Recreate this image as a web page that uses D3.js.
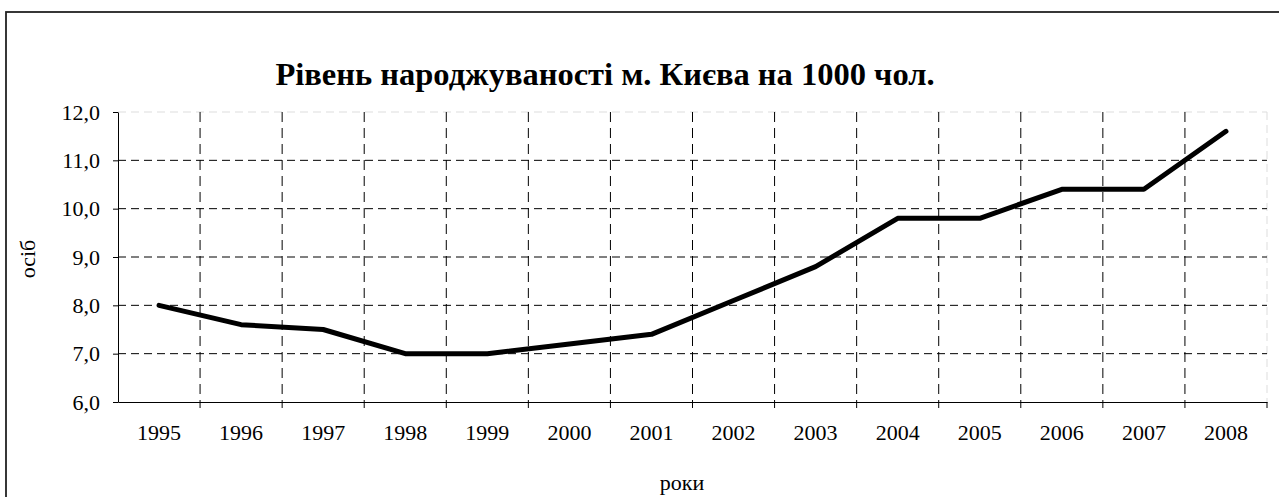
<!DOCTYPE html>
<html>
<head>
<meta charset="utf-8">
<script src="https://cdn.jsdelivr.net/npm/d3@7"></script>
<style>
  body { margin: 0; background: #fff; }
  svg { display: block; font-family: "Liberation Serif", "Times New Roman", serif; }
</style>
</head>
<body>
<div id="chart"></div>
<script>
// Chart data
const years = ["1995", "1996", "1997", "1998", "1999", "2000", "2001",
  "2002", "2003", "2004", "2005", "2006", "2007", "2008"];
const birthRate = [8.0, 7.6, 7.5, 7.0, 7.0, 7.2, 7.4, 8.1, 8.8, 9.8, 9.8, 10.4, 10.4, 11.6];
const yTicks = [6, 7, 8, 9, 10, 11, 12];

const titleText = "Рівень народжуваності м. Києва на 1000 чол.";
const xLabel = "роки";
const yLabel = "осіб";

// Size of page and plot
const [w, h] = [1279, 497];
const plotLeft = 118;
const plotRight = 1267;
const plotTop = 112;
const plotBottom = 402;
const labelSize = 22;

const svg = d3.select("#chart")
  .append("svg")
  .attr("width", w)
  .attr("height", h);

// Outer frame (goes off the page on the right and bottom)
svg.append("rect")
  .attr("x", 6)
  .attr("y", 12)
  .attr("width", w + 20)
  .attr("height", h + 20)
  .attr("fill", "none")
  .attr("stroke", "#222")
  .attr("stroke-width", 1.8);

// Scales
const xScale = d3.scaleBand()
  .domain(years)
  .range([plotLeft, plotRight]);

const yScale = d3.scaleLinear()
  .domain([6, 12])
  .range([plotBottom, plotTop]);

// Faint plot area border at top and right
svg.append("line")
  .attr("x1", plotLeft).attr("x2", plotRight)
  .attr("y1", yScale(12)).attr("y2", yScale(12))
  .attr("stroke", "#ddd")
  .attr("stroke-dasharray", "8,5");

svg.append("line")
  .attr("x1", plotRight).attr("x2", plotRight)
  .attr("y1", plotTop).attr("y2", plotBottom)
  .attr("stroke", "#ddd")
  .attr("stroke-dasharray", "8,5");

// Dashed grid lines
svg.append("g")
  .selectAll("line")
  .data(yTicks.filter(d => d > 6 && d < 12))
  .enter()
  .append("line")
  .attr("x1", plotLeft)
  .attr("x2", plotRight)
  .attr("y1", d => yScale(d))
  .attr("y2", d => yScale(d))
  .attr("stroke", "#000")
  .attr("stroke-dasharray", "8,5");

svg.append("g")
  .selectAll("line")
  .data(years.slice(1))
  .enter()
  .append("line")
  .attr("x1", d => xScale(d))
  .attr("x2", d => xScale(d))
  .attr("y1", plotTop)
  .attr("y2", plotBottom)
  .attr("stroke", "#000")
  .attr("stroke-dasharray", "10,6");

// Axes
const yAxis = d3.axisLeft(yScale)
  .tickValues(yTicks)
  .tickFormat(d => d3.format(".1f")(d).replace(".", ","))
  .tickSize(5)
  .tickPadding(13)
  .tickSizeOuter(0);

svg.append("g")
  .attr("transform", `translate(${plotLeft},0)`)
  .call(yAxis)
  .call(g => g.selectAll("text").attr("font-size", labelSize).attr("font-family", "Liberation Serif").attr("fill", "#000"));

const xAxis = d3.axisBottom(xScale)
  .tickSize(0)
  .tickPadding(22)
  .tickSizeOuter(0);

const xg = svg.append("g")
  .attr("transform", `translate(0,${plotBottom})`)
  .call(xAxis)
  .call(g => g.selectAll("text").attr("font-size", labelSize).attr("font-family", "Liberation Serif").attr("fill", "#000"));

// x tick marks at category boundaries
xg.selectAll("line.boundary")
  .data(years.slice(1).concat(["end"]))
  .enter()
  .append("line")
  .attr("class", "boundary")
  .attr("x1", d => d === "end" ? plotRight : xScale(d))
  .attr("x2", d => d === "end" ? plotRight : xScale(d))
  .attr("y1", 0)
  .attr("y2", 6)
  .attr("stroke", "#000");

// Data line
const line = d3.line()
  .x((d, i) => xScale(years[i]) + xScale.bandwidth() / 2)
  .y(d => yScale(d));

svg.append("path")
  .datum(birthRate)
  .attr("d", line)
  .attr("fill", "none")
  .attr("stroke", "#000")
  .attr("stroke-width", 5)
  .attr("stroke-linejoin", "round")
  .attr("stroke-linecap", "round");

// Title and axis labels
svg.append("text")
  .attr("x", 605)
  .attr("y", 85)
  .attr("text-anchor", "middle")
  .attr("font-size", 32.5)
  .attr("font-weight", "bold")
  .text(titleText);

svg.append("text")
  .attr("x", 682)
  .attr("y", 490)
  .attr("text-anchor", "middle")
  .attr("font-size", labelSize)
  .text(xLabel);

svg.append("text")
  .attr("transform", "translate(35,259) rotate(-90)")
  .attr("text-anchor", "middle")
  .attr("font-size", labelSize)
  .text(yLabel);
</script>
</body>
</html>
